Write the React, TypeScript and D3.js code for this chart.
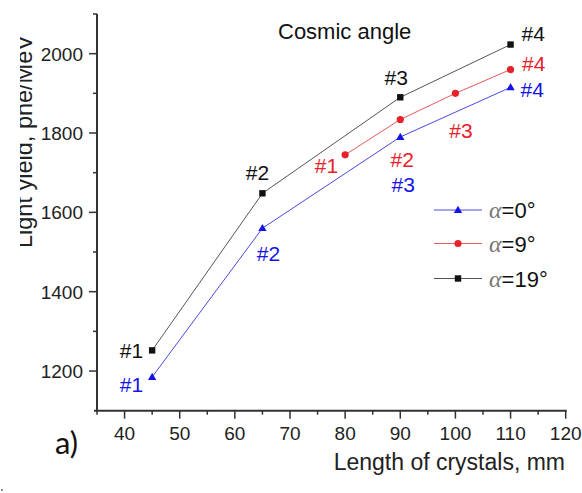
import React from "react";
import * as d3 from "d3";

const lengths0 = [45, 65, 90, 110];
const yield0 = [1185, 1560, 1790, 1915];
const labels0 = ["#1", "#2", "#3", "#4"];

const lengths9 = [80, 90, 100, 110];
const yield9 = [1745, 1834, 1900, 1960];
const labels9 = ["#1", "#2", "#3", "#4"];

const lengths19 = [45, 65, 90, 110];
const yield19 = [1252, 1648, 1890, 2023];
const labels19 = ["#1", "#2", "#3", "#4"];

const xTicks = [40, 50, 60, 70, 80, 90, 100, 110, 120];
const xMinor = [35, 45, 55, 65, 75, 85, 95, 105, 115];
const yTicks = [1200, 1400, 1600, 1800, 2000];
const yMinor = [1300, 1500, 1700, 1900, 2100];

const legendNames = ["=0°", "=9°", "=19°"];

const W = 582;
const H = 493;
const FONT = "'Liberation Sans', Arial, sans-serif";

// label offsets (px) relative to point: [dx, dy, anchor]
const off0: [number, number, string][] = [
  [-9, 15, "end"],
  [6, 33, "middle"],
  [3, 55, "middle"],
  [10, 10, "start"],
];
const off9: [number, number, string][] = [
  [-7, 18, "end"],
  [2, 47.5, "middle"],
  [5.6, 44.7, "middle"],
  [11.4, 1.5, "start"],
];
const off19: [number, number, string][] = [
  [-9, 8, "end"],
  [-5, -13, "middle"],
  [-4, -12, "middle"],
  [11, -3.5, "start"],
];

export default function App() {
  const x = d3.scaleLinear().domain([35, 120]).range([97, 565.7]);
  const y = d3.scaleLinear().domain([1100, 2100]).range([410.7, 14]);

  const BLUE = "#1414e6";
  const RED = "#e8202a";
  const BLACK = "#111";

  const series = [
    { xs: lengths0, ys: yield0, labels: labels0, off: off0, color: BLUE, line: "#4a4ae0", marker: "tri" },
    { xs: lengths9, ys: yield9, labels: labels9, off: off9, color: RED, line: "#e45a5a", marker: "circle" },
    { xs: lengths19, ys: yield19, labels: labels19, off: off19, color: BLACK, line: "#555", marker: "square" },
  ];

  const lineGen = d3
    .line<[number, number]>()
    .x((d) => x(d[0]))
    .y((d) => y(d[1]));

  const marker = (type: string, cx: number, cy: number, color: string, key: any) => {
    if (type === "tri") {
      const p = d3.symbol().type(d3.symbolTriangle).size(30)();
      return <path key={key} d={p || ""} transform={`translate(${cx},${cy + 0.5})`} fill={color} />;
    }
    if (type === "circle") return <circle key={key} cx={cx} cy={cy} r={3.6} fill={color} />;
    return <rect key={key} x={cx - 3.2} y={cy - 3.2} width={6.4} height={6.4} fill={color} />;
  };

  const axisColor = "#333";

  return (
    <svg
      width={W}
      height={H}
      style={{ position: "absolute", left: 0, top: 0, background: "#fff" }}
      fontFamily={FONT}
    >
      <defs>
        <clipPath id="ylabclip">
          <rect x={20} y={0} width={100} height={H} />
        </clipPath>
      </defs>
      <rect x={0} y={0} width={W} height={H} fill="#fff" />

      {/* series lines */}
      {series.map((s, i) => (
        <path
          key={"l" + i}
          d={lineGen(s.xs.map((v, j) => [v, s.ys[j]] as [number, number])) || ""}
          fill="none"
          stroke={s.line}
          strokeWidth={1}
        />
      ))}
      {/* markers */}
      {series.map((s, i) =>
        s.xs.map((v, j) => marker(s.marker, x(v), y(s.ys[j]), s.color, `m${i}-${j}`))
      )}
      {/* point labels */}
      {series.map((s, i) =>
        s.xs.map((v, j) => (
          <text
            key={`t${i}-${j}`}
            x={x(v) + s.off[j][0]}
            y={y(s.ys[j]) + s.off[j][1]}
            textAnchor={s.off[j][2] as any}
            fontSize={21}
            fill={s.color}
          >
            {s.labels[j]}
          </text>
        ))
      )}

      {/* axes */}
      <line x1={x(35)} x2={x(35)} y1={y(2100)} y2={y(1100) + 1} stroke={axisColor} strokeWidth={2} />
      <line x1={x(35) - 3} x2={x(120) + 1} y1={y(1100)} y2={y(1100)} stroke={axisColor} strokeWidth={2} />
      {yTicks.map((t) => (
        <g key={"yt" + t}>
          <line x1={x(35) - 8} x2={x(35)} y1={y(t)} y2={y(t)} stroke={axisColor} strokeWidth={1.5} />
          <text x={83} y={y(t) + 7} textAnchor="end" fontSize={19} fill="#222">
            {t}
          </text>
        </g>
      ))}
      {yMinor.map((t) => (
        <line key={"ym" + t} x1={x(35) - 4} x2={x(35)} y1={y(t)} y2={y(t)} stroke={axisColor} strokeWidth={1.5} />
      ))}
      {xTicks.map((t) => (
        <g key={"xt" + t}>
          <line x1={x(t)} x2={x(t)} y1={y(1100)} y2={y(1100) + 8} stroke={axisColor} strokeWidth={1.5} />
          <text x={x(t)} y={440} textAnchor="middle" fontSize={19} fill="#222">
            {t}
          </text>
        </g>
      ))}
      {xMinor.map((t) => (
        <line key={"xm" + t} x1={x(t)} x2={x(t)} y1={y(1100)} y2={y(1100) + 4} stroke={axisColor} strokeWidth={1.5} />
      ))}

      {/* axis titles */}
      <text x={565} y={470} textAnchor="end" fontSize={23} fill="#222">
        Length of crystals, mm
      </text>
      <g clipPath="url(#ylabclip)">
        <text transform="translate(32,248) rotate(-90)" fontSize={23.5} fill="#222">
          Light yield, phe/MeV
        </text>
      </g>

      {/* title */}
      <text x={278} y={39} fontSize={22} fill="#111">
        Cosmic angle
      </text>

      {/* legend */}
      {series.map((s, i) => {
        const ly = [210, 243.5, 278.5][i];
        return (
          <g key={"lg" + i}>
            <line x1={434} x2={482} y1={ly} y2={ly} stroke={s.line} strokeWidth={1} />
            {marker(s.marker, 458, ly, s.color, "lgm" + i)}
            <text x={489} y={ly + 8} fontSize={22} fill="#111">
              <tspan fontFamily="'Liberation Serif', serif" fontStyle="italic" fill="#777" fontSize={24}>
                α
              </tspan>
              {legendNames[i]}
            </text>
          </g>
        );
      })}

      {/* panel label */}
      <text x={55} y={454} fontSize={31} fontFamily="Lato, 'Open Sans', sans-serif" fill="#111">
        a)
      </text>
      <rect x={1} y={489} width={2} height={2} fill="#888" />
    </svg>
  );
}
